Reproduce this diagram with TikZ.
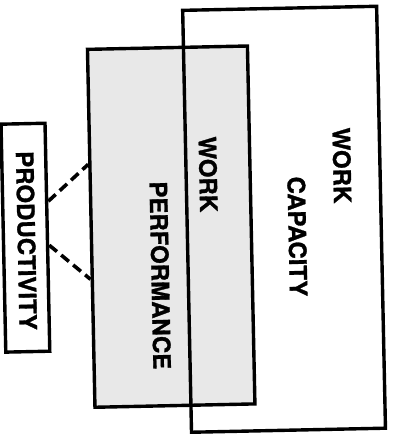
\documentclass[tikz,border=0pt]{standalone}
\usepackage{fontspec}
\setmainfont{TeX Gyre Heros}[BoldFeatures={FakeBold=1.2}]
\begin{document}
\begin{tikzpicture}[x=1pt,y=1pt,
  box/.style={draw=black, line width=3.4pt, rectangle, inner sep=0pt},
  shaded/.style={fill=black!9},
  lbl/.style={font=\fontsize{24}{26}\selectfont\bfseries, rotate=-90, inner sep=0pt},
  link/.style={line width=3.6pt, dash pattern=on 10pt off 5.5pt}]
\useasboundingbox (0,0) rectangle (403,434);
\begin{scope}[rotate around={1.2:(201.5,217)}, transform shape]
  % the three blocks
  \node[box, shaded, minimum width=160pt, minimum height=358pt] (perf) at (171,208) {};
  \node[box, minimum width=194pt, minimum height=422pt] (cap) at (284,213) {};
  \node[box, minimum width=44pt, minimum height=228pt] (prod) at (25,200) {};
  % labels, set sideways
  \node[lbl] (tprod) at (26,197) {PRODUCTIVITY};
  \node[lbl] (tperf) at (159,159.5) {PERFORMANCE};
  \node[lbl] (twork) at (209,259.5) {WORK};
  \node[lbl] (tcapa) at (343,265.5) {WORK};
  \node[lbl] (tcapb) at (297,195.5) {CAPACITY};
  % dashed links from productivity to performance
  \draw[link] ([yshift=36pt]prod.east) -- ([yshift=64pt]perf.west);
  \draw[link] ([yshift=-8pt]prod.east) -- ([yshift=-51pt]perf.west);
\end{scope}
\end{tikzpicture}
\end{document}
